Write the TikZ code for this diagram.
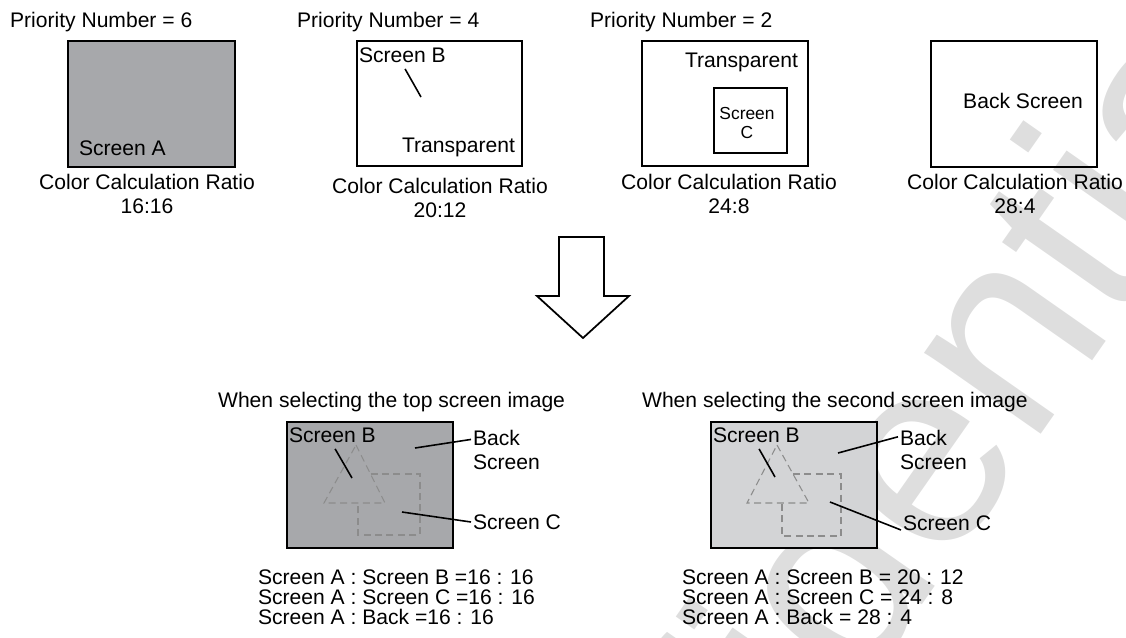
\documentclass[tikz,border=0pt]{standalone}
\usepackage{fontspec}
\setmainfont{Liberation Sans}
\usetikzlibrary{positioning}
\definecolor{scrdark}{RGB}{167,168,171}
\definecolor{scrlight}{RGB}{211,212,214}
\definecolor{dashgray}{RGB}{140,140,140}
\definecolor{wmgray}{RGB}{222,222,222}

\begin{document}
\begin{tikzpicture}[x=0.02cm, y=-0.02cm,
    every node/.style={font=\fontsize{12}{13.6}\selectfont, inner sep=1pt},
    scr/.style={draw, line width=1pt},
    ptr/.style={line width=0.9pt},
    hidden/.style={dashgray, line width=0.6pt, dash pattern=on 4pt off 2.5pt},
    small/.style={font=\fontsize{9.9}{11.3}\selectfont}]
  \useasboundingbox (0,0) rectangle (1126,637);
  % watermark
  \node[wmgray, rotate=55, font=\fontsize{153}{153}\selectfont] (wm) at (828,572) {Confidential};
  % top row
  \node[anchor=base west] (prio6) at (8,27) {Priority Number = 6};
  \node[anchor=base west] (prio4) at (295,27) {Priority Number = 4};
  \node[anchor=base west] (prio2) at (588,27) {Priority Number = 2};
  \draw[scr, fill=scrdark] (68,41) rectangle (235,167);
  \node[anchor=base west] (scrA) at (77,155) {Screen A};
  \draw[scr] (357,41) rectangle (522,166);
  \node[anchor=base west] (scrB) at (357,62) {Screen B};
  \coordinate (ptB) at (421,97);
  \draw[ptr, shorten <=3pt] (scrB.south) -- (ptB);
  \node[anchor=base east] (trB) at (517,152) {Transparent};
  \draw[scr] (642,41) rectangle (808,166);
  \node[anchor=base east] (trC) at (800,67) {Transparent};
  \draw[scr] (714,88) rectangle (787,153);
  \node[small, align=center] (scrC) at (747,123) {Screen\\C};
  \draw[scr] (931,41) rectangle (1097,167);
  \node (back) at (1023,101) {Back Screen};
  \node[align=center, anchor=north] (ratA) at (147,172) {Color Calculation Ratio\\16:16};
  \node[align=center, anchor=north] (ratB) at (440,176) {Color Calculation Ratio\\20:12};
  \node[align=center, anchor=north] (ratC) at (729,172) {Color Calculation Ratio\\24:8};
  \node[align=center, anchor=north] (ratD) at (1015,172) {Color Calculation Ratio\\28:4};
  % big arrow
  \draw[line width=1pt] (559,237) -- (604,237) -- (604,296) -- (629,296)
    -- (583,338) -- (537,296) -- (559,296) -- cycle;
  % top screen image
  \node[anchor=base west] (headL) at (216,407) {When selecting the top screen image};
  \draw[scr, fill=scrdark] (287,422) rectangle (453,548);
  \draw[hidden] (356,445) -- (385,503) -- (324,503) -- cycle;
  \draw[hidden] (370.5,474) -- (420,474) -- (420,535) -- (358,535) -- (358,503);
  \node[anchor=base west] (scrBL) at (287,442) {Screen B};
  \coordinate (ptBL) at (352,478);
  \draw[ptr, shorten <=3pt] (scrBL.south) -- (ptBL);
  \node[anchor=north west, align=left] (backL) at (471,428) {Back\\Screen};
  \coordinate (ptBackL) at (415,448);
  \draw[ptr] (ptBackL) -- ([yshift=-6.5pt]backL.north west);
  \node[anchor=west] (scCL) at (471,522) {Screen C};
  \coordinate (ptCL) at (402,512);
  \draw[ptr] (ptCL) -- (scCL.west);
  \node[anchor=north west, align=left, font=\fontsize{12}{11.34}\selectfont] (ratioL) at (256,568)
    {Screen A : Screen B =16 : 16\\Screen A : Screen C =16 : 16\\Screen A : Back =16 : 16};
  % second screen image
  \node[anchor=base west] (headR) at (640,407) {When selecting the second screen image};
  \draw[scr, fill=scrlight] (711,422) rectangle (877,548);
  \draw[hidden] (777,445) -- (809,503) -- (747,503) -- cycle;
  \draw[hidden] (793,474) -- (841,474) -- (841,536) -- (782,536) -- (782,503);
  \node[anchor=base west] (scrBR) at (711,442) {Screen B};
  \coordinate (ptBR) at (775,477);
  \draw[ptr, shorten <=3pt] (scrBR.south) -- (ptBR);
  \node[anchor=north west, align=left] (backR) at (898,428) {Back\\Screen};
  \coordinate (ptBackR) at (838,453);
  \draw[ptr] (ptBackR) -- ([yshift=-5pt]backR.north west);
  \node[anchor=base west] (scCR) at (901,530) {Screen C};
  \coordinate (ptCR) at (830,502);
  \draw[ptr] (ptCR) -- (scCR.base west);
  \node[anchor=north west, align=left, font=\fontsize{12}{11.34}\selectfont] (ratioR) at (680,568)
    {Screen A : Screen B = 20 : 12\\Screen A : Screen C = 24 : 8\\Screen A : Back = 28 : 4};
\end{tikzpicture}
\end{document}
